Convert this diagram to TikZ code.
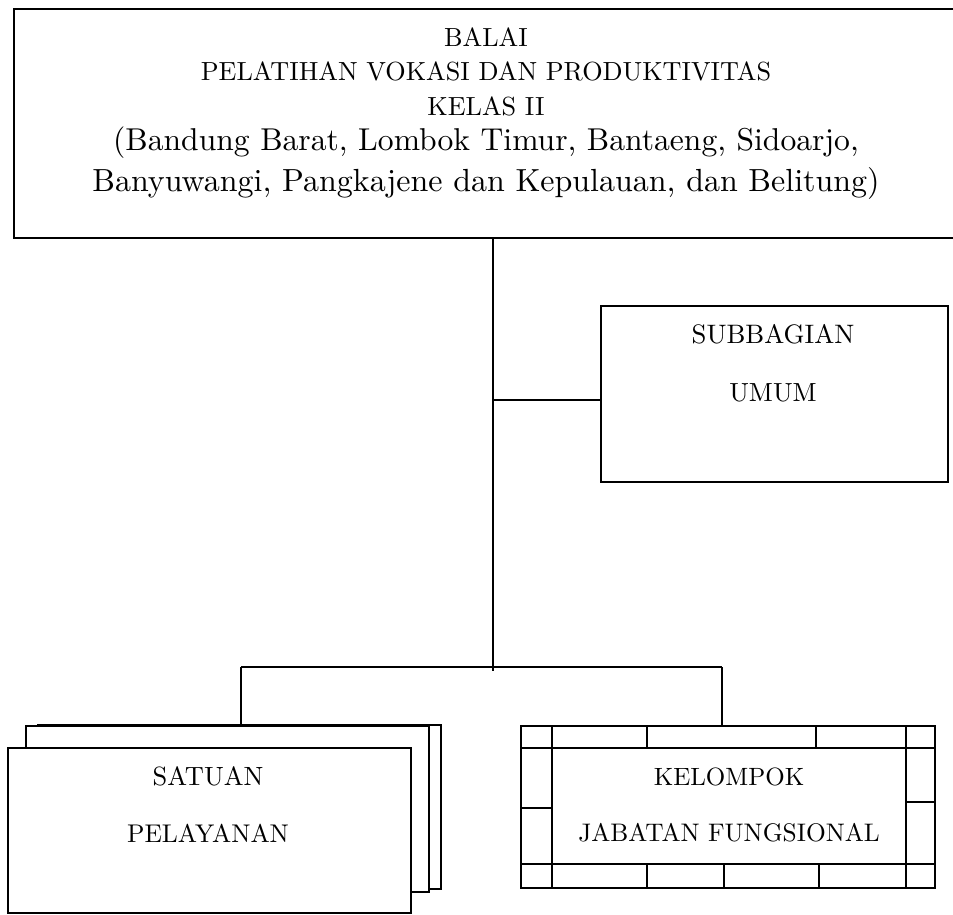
\documentclass[tikz,border=0pt]{standalone}
\usepackage{fontspec}
\setmainfont{lmroman10-regular.otf}
\newcommand{\fsz}[1]{\fontsize{#1}{#1}\selectfont}
\begin{document}
\begin{tikzpicture}[x=1pt,y=-1pt,
  boxst/.style={draw, line width=1.5pt, inner sep=0pt, anchor=north west, fill=white},
  conn/.style={line width=1.3pt},
  grid/.style={line width=1.3pt},
  txt/.style={anchor=base, inner sep=0pt}]
\useasboundingbox (0,0) rectangle (953,914);
\clip (0,0) rectangle (953,914);

% top box
\node[boxst, minimum width=947pt, minimum height=229pt] (balai) at (13,8) {};
\node[txt, font=\fsz{26.2}] (t1) at (486,46) {BALAI};
\node[txt, font=\fsz{26.2}] (t2) at (486,80.7) {PELATIHAN VOKASI DAN PRODUKTIVITAS};
\node[txt, font=\fsz{26.2}] (t3) at (486,115) {KELAS II};
\node[txt, font=\fsz{31.6}] (t4) at (486,150) {(Bandung Barat, Lombok Timur, Bantaeng, Sidoarjo,};
\node[txt, font=\fsz{32}] (t5) at (486,191.7) {Banyuwangi, Pangkajene dan Kepulauan, dan Belitung)};

% subbagian
\node[boxst, minimum width=347pt, minimum height=176pt] (sub) at (600,305) {};
\node[txt, font=\fsz{26.7}] (s1) at (773,343) {SUBBAGIAN};
\node[txt, font=\fsz{26.2}] (s2) at (773,401.7) {UMUM};

% satuan pelayanan (stacked)
\node[boxst, minimum width=403pt, minimum height=164pt] (sp2) at (37,724) {};
\node[boxst, minimum width=403pt, minimum height=166pt] (sp1) at (25,725) {};
\node[boxst, minimum width=403pt, minimum height=165pt] (sp) at (7,747) {};
\node[txt, font=\fsz{26.4}] (p1) at (208,785) {SATUAN};
\node[txt, font=\fsz{25.6}] (p2) at (208,842) {PELAYANAN};

% kelompok jabatan fungsional
\node[boxst, minimum width=414pt, minimum height=162pt] (kel) at (520,725) {};
\draw[grid] (520,748) -- (934,748);
\draw[grid] (520,864) -- (934,864);
\draw[grid] (552,725) -- (552,887);
\draw[grid] (906,725) -- (906,887);
\draw[grid] (647,725) -- (647,748);
\draw[grid] (816,725) -- (816,748);
\draw[grid] (647,864) -- (647,887);
\draw[grid] (724,864) -- (724,887);
\draw[grid] (819,864) -- (819,887);
\draw[grid] (520,808) -- (552,808);
\draw[grid] (906,802) -- (934,802);
\node[txt, font=\fsz{25}] (k1) at (729,785) {KELOMPOK};
\node[txt, font=\fsz{25.4}] (k2) at (729,841.7) {JABATAN FUNGSIONAL};

% connectors
\coordinate (j1) at (493,400);
\coordinate (j2) at (493,670.5);
\coordinate (bl) at (241,667);
\coordinate (br) at (722,667);
\draw[conn] (balai.south -| j1) -- (j2);
\draw[conn] (j1) -- (sub.west |- j1);
\draw[conn] (bl) -- (br);
\draw[conn] (bl) -- (bl |- sp1.north);
\draw[conn] (br) -- (br |- kel.north);
\end{tikzpicture}
\end{document}
